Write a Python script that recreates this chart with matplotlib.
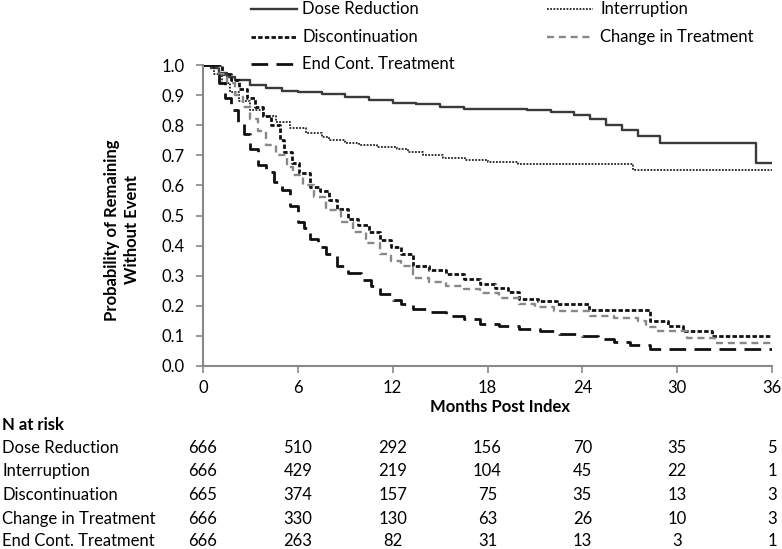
import matplotlib
matplotlib.use("Agg")
import matplotlib.pyplot as plt
import matplotlib.transforms as mtransforms
from matplotlib.lines import Line2D

plt.rcParams['font.family'] = ['Lato', 'DejaVu Sans']

# Kaplan-Meier step data (months, survival probability)
dose_t = [0, 0.5, 1.0, 1.5, 2.0, 3.0, 4.0, 5.0, 6.0, 7.5, 9.0, 10.5, 12.0, 13.5, 15.0, 16.5, 20.5, 22.0, 23.5, 24.5, 25.5, 26.5, 27.5, 28.9, 35.0, 36.0]
dose_s = [1.0, 0.99, 0.975, 0.96, 0.95, 0.935, 0.925, 0.915, 0.91, 0.905, 0.895, 0.885, 0.875, 0.87, 0.86, 0.855, 0.85, 0.845, 0.835, 0.82, 0.80, 0.785, 0.765, 0.74, 0.673, 0.673]

intr_t = [0, 0.7, 1.2, 1.7, 2.3, 3.0, 3.8, 4.6, 5.5, 6.5, 7.5, 8.0, 9.0, 9.9, 11.0, 12.3, 13.0, 13.9, 15.2, 16.6, 18.0, 19.9, 27.2, 36.0]
intr_s = [1.0, 0.97, 0.94, 0.91, 0.88, 0.85, 0.83, 0.81, 0.79, 0.775, 0.76, 0.75, 0.74, 0.733, 0.727, 0.72, 0.71, 0.70, 0.692, 0.685, 0.677, 0.67, 0.652, 0.652]

disc_t = [0, 1.2, 1.8, 2.3, 2.8, 3.3, 3.8, 4.3, 4.9, 5.1, 5.6, 6.1, 6.8, 7.4, 8.0, 8.5, 9.2, 9.8, 10.5, 11.2, 11.9, 12.5, 13.3, 14.3, 15.4, 16.5, 17.5, 18.5, 19.3, 20.0, 21.2, 22.4, 24.4, 28.3, 29.4, 30.4, 32.2, 36.0]
disc_s = [1.0, 0.97, 0.95, 0.92, 0.89, 0.86, 0.83, 0.80, 0.75, 0.71, 0.675, 0.64, 0.595, 0.58, 0.55, 0.52, 0.49, 0.47, 0.445, 0.417, 0.395, 0.373, 0.333, 0.32, 0.307, 0.29, 0.273, 0.26, 0.245, 0.223, 0.215, 0.207, 0.185, 0.15, 0.133, 0.117, 0.10, 0.10]

chg_t = [0, 1.0, 1.5, 2.0, 2.5, 3.0, 3.5, 4.0, 4.6, 5.3, 5.7, 6.3, 7.0, 7.8, 8.7, 9.5, 10.3, 11.2, 11.9, 12.5, 13.3, 14.3, 15.4, 16.5, 17.5, 18.7, 20.0, 21.0, 22.2, 24.5, 26.0, 27.5, 28.0, 28.7, 30.6, 32.4, 36.0]
chg_s = [1.0, 0.97, 0.94, 0.90, 0.86, 0.82, 0.78, 0.735, 0.70, 0.66, 0.635, 0.60, 0.56, 0.517, 0.477, 0.445, 0.41, 0.373, 0.35, 0.333, 0.293, 0.28, 0.267, 0.255, 0.243, 0.225, 0.207, 0.195, 0.183, 0.165, 0.16, 0.15, 0.13, 0.117, 0.093, 0.077, 0.077]

end_t = [0, 1.0, 1.4, 1.8, 2.2, 2.6, 3.0, 3.5, 4.0, 4.5, 5.0, 5.5, 6.0, 6.4, 6.8, 7.3, 7.8, 8.5, 9.2, 10.0, 10.6, 11.2, 12.0, 12.5, 13.3, 14.3, 15.4, 16.5, 17.5, 18.7, 20.0, 21.3, 22.5, 24.0, 25.0, 26.0, 27.0, 28.3, 36.0]
end_s = [1.0, 0.94, 0.89, 0.85, 0.81, 0.77, 0.72, 0.667, 0.645, 0.61, 0.585, 0.53, 0.48, 0.457, 0.423, 0.395, 0.373, 0.333, 0.31, 0.285, 0.265, 0.24, 0.22, 0.207, 0.19, 0.178, 0.167, 0.155, 0.14, 0.132, 0.123, 0.115, 0.105, 0.10, 0.09, 0.08, 0.07, 0.057, 0.057]

series_names = ["Dose Reduction", "Interruption", "Discontinuation", "Change in Treatment", "End Cont. Treatment"]
x_ticks = [0, 6, 12, 18, 24, 30, 36]
y_ticks = [0.0, 0.1, 0.2, 0.3, 0.4, 0.5, 0.6, 0.7, 0.8, 0.9, 1.0]
n_at_risk = {
    "Dose Reduction": [666, 510, 292, 156, 70, 35, 5],
    "Interruption": [666, 429, 219, 104, 45, 22, 1],
    "Discontinuation": [665, 374, 157, 75, 35, 13, 3],
    "Change in Treatment": [666, 330, 130, 63, 26, 10, 3],
    "End Cont. Treatment": [666, 263, 82, 31, 13, 3, 1],
}

W, H = 782, 549
FS = 12
fig = plt.figure(figsize=(W / 100, H / 100), dpi=100)
ax = fig.add_axes([203 / W, 1 - 366 / H, (772 - 203) / W, 301 / H])

styles = [
    dict(color="#3a3a3a", lw=1.7, ls="-"),
    dict(color="#222222", lw=1.3, ls=(0, (1, 0.8))),
    dict(color="#111111", lw=2.0, ls=(0, (1.6, 0.8))),
    dict(color="#888888", lw=1.7, ls=(0, (3, 2))),
    dict(color="#111111", lw=2.0, ls=(0, (6, 3))),
]
data = [(dose_t, dose_s), (intr_t, intr_s), (disc_t, disc_s), (chg_t, chg_s), (end_t, end_s)]
for (t, s), st, name in zip(data, styles, series_names):
    ax.step(t, s, where="post", label=name, **st)

ax.set_xlim(0, 36)
ax.set_ylim(0, 1.0)
ax.set_xticks(x_ticks)
ax.set_yticks(y_ticks)
ax.set_yticklabels([f"{v:.1f}" for v in y_ticks])
for sp in ["top", "right"]:
    ax.spines[sp].set_visible(False)
for sp in ["left", "bottom"]:
    ax.spines[sp].set_color("#888888")
    ax.spines[sp].set_linewidth(1.5)
ax.tick_params(direction="out", length=5, width=1.2, color="#888888", labelsize=FS)
ax.tick_params(axis="y", pad=8)
ax.tick_params(axis="x", pad=5)

# y label (two lines, bold)
fig.text(122 / W, 1 - 230 / H, "Probability of Remaining\nWithout Event", rotation=90,
         fontsize=FS, fontweight="bold", ha="center", va="center", multialignment="center",
         linespacing=1.25)
# x label
fig.text(500 / W, 1 - 407 / H, "Months Post Index", fontsize=FS, fontweight="bold",
         ha="center", va="center")

# legend (drawn manually in figure pixels)
leg_pos = [(251, 297, 302, 9), (547, 593, 600, 9), (251, 297, 302, 37), (547, 593, 600, 37), (251, 297, 302, 64)]
for (x0, x1, xt, yy), st, name in zip(leg_pos, styles, series_names):
    ln = Line2D([x0 / W, x1 / W], [1 - yy / H, 1 - yy / H], transform=fig.transFigure, **st)
    fig.add_artist(ln)
    fig.text(xt / W, 1 - yy / H, name, fontsize=FS, ha="left", va="center")

# risk table
trans = mtransforms.blended_transform_factory(ax.transData, fig.transFigure)
fig.text(2 / W, 1 - 425 / H, "N at risk", fontsize=FS, fontweight="bold", va="center", ha="left")
row_y = [448, 471, 495, 519, 541]
for name, yy in zip(series_names, row_y):
    fig.text(2 / W, 1 - yy / H, name, fontsize=FS, va="center", ha="left")
    for xv, n in zip(x_ticks, n_at_risk[name]):
        ax.text(xv, 1 - yy / H, str(n), transform=trans, fontsize=FS, va="center", ha="center")

fig.savefig("out.png", dpi=100)
